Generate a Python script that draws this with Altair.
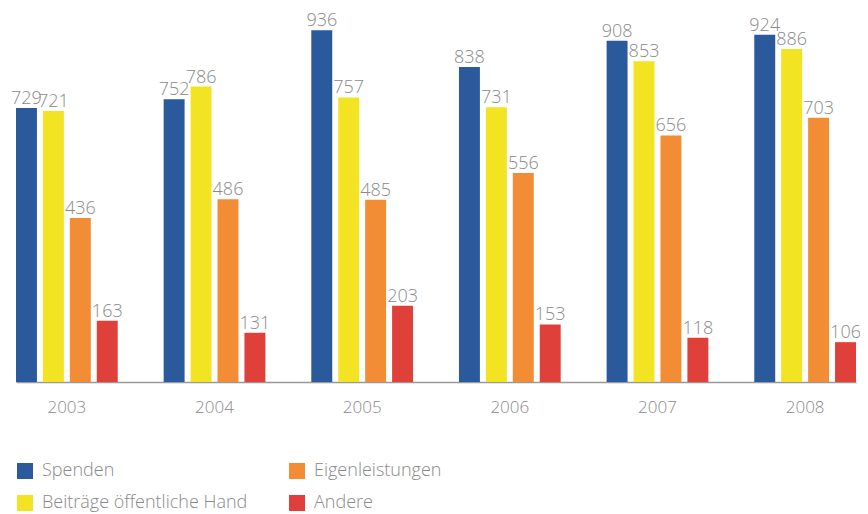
import altair as alt
import pandas as pd

years = ["2003", "2004", "2005", "2006", "2007", "2008"]
series = ["Spenden", "Beiträge öffentliche Hand", "Eigenleistungen", "Andere"]
spenden = [729, 752, 936, 838, 908, 924]
beitraege = [721, 786, 757, 731, 853, 886]
eigen = [436, 486, 485, 556, 656, 703]
andere = [163, 131, 203, 153, 118, 106]
colors = ["#2B5A9C", "#F2E323", "#F28C35", "#E0403A"]

rows = []
for name, vals in zip(series, [spenden, beitraege, eigen, andere]):
    for y, v in zip(years, vals):
        rows.append({"Jahr": y, "Serie": name, "Wert": v})
df = pd.DataFrame(rows)

FONT = "Open Sans"
GRAY = "#8a8a8a"

x = alt.X("Jahr:N", title=None,
          scale=alt.Scale(paddingInner=0.311, paddingOuter=0, align=0),
          axis=alt.Axis(labelAngle=0, ticks=False, labelFontSize=17, labelColor=GRAY,
                        labelFont=FONT, labelFontWeight=300, labelPadding=17,
                        domainColor="#999999", domainWidth=1.5))
xo = alt.XOffset("Serie:N", sort=series,
                 scale=alt.Scale(paddingInner=0.222, paddingOuter=0))
y = alt.Y("Wert:Q", title=None, scale=alt.Scale(domain=[0, 995], nice=False),
          axis=None)

bars = alt.Chart(df).mark_bar().encode(
    x=x, xOffset=xo, y=y,
    color=alt.Color("Serie:N", scale=alt.Scale(domain=series, range=colors),
                    legend=alt.Legend(title=None, orient="none", legendX=0, legendY=454,
                                      columns=2, columnPadding=40, rowPadding=14,
                                      symbolType="square", symbolSize=256,
                                      symbolStrokeWidth=0, symbolOpacity=1,
                                      labelFontSize=18, labelColor=GRAY,
                                      labelFont=FONT, labelFontWeight=300,
                                      labelOffset=8, labelLimit=400))
)

labels = alt.Chart(df).mark_text(baseline="bottom", dy=0, fontSize=18,
                                 color=GRAY, font=FONT, fontWeight=300).encode(
    x=x, xOffset=xo, y=y, text="Wert:Q"
)

chart = (bars + labels).properties(
    width=840, height=374,
    autosize=alt.AutoSizeParams(type="none"),
    padding={"left": 8, "top": 0, "right": 4, "bottom": 130},
).configure_view(stroke=None)

chart.save("out.html", embed_options={"renderer": "svg", "actions": False})
